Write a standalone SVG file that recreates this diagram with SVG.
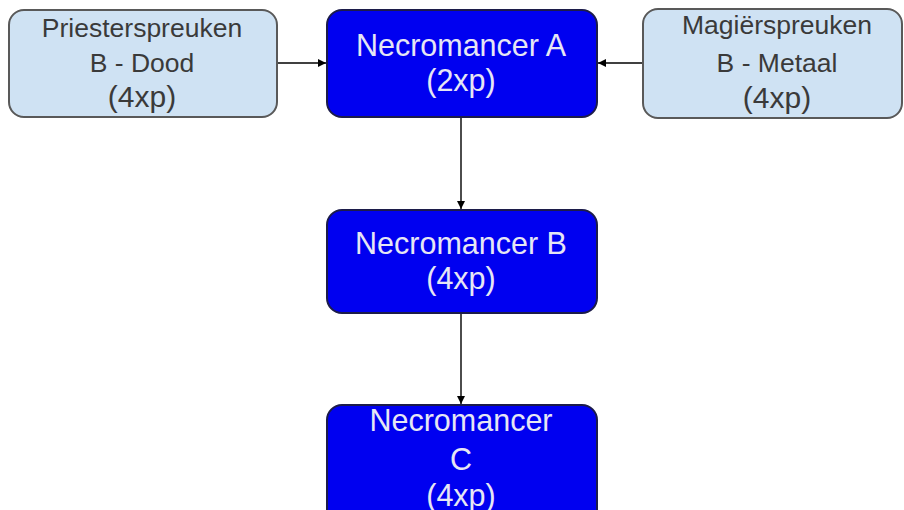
<svg xmlns="http://www.w3.org/2000/svg" width="904" height="510" viewBox="0 0 904 510">
<defs>
<marker id="ah" viewBox="0 0 10 10" refX="10" refY="5" markerWidth="8" markerHeight="8" markerUnits="userSpaceOnUse" orient="auto">
<path d="M0,0 L10,5 L0,10 z" fill="#000"/>
</marker>
<style>
.light{fill:#cfe2f3;stroke:#595959;stroke-width:2}
.dark{fill:#0000f0;stroke:#1c1c4a;stroke-width:2}
.lt{font-family:"Liberation Sans",Arial,sans-serif;fill:#3a3a3a;text-anchor:middle}
.dt{font-family:"Liberation Sans",Arial,sans-serif;fill:#e6e6f4;text-anchor:middle;font-size:30.5px}
.conn{stroke:#000;stroke-width:1.4;fill:none;marker-end:url(#ah)}
</style>
</defs>
<rect width="904" height="510" fill="#ffffff"/>
<g id="connectors">
<line class="conn" x1="278" y1="63" x2="326" y2="63"/>
<line class="conn" x1="643" y1="63" x2="598" y2="63"/>
<line class="conn" x1="461" y1="118" x2="461" y2="209"/>
<line class="conn" x1="461" y1="314" x2="461" y2="404"/>
</g>
<g id="priester">
<rect class="light" x="9" y="10" width="268" height="107" rx="15"/>
<text class="lt" x="142" y="37" font-size="26.5">Priesterspreuken</text>
<text class="lt" x="142" y="72" font-size="26.5">B - Dood</text>
<text class="lt" x="142" y="107" font-size="30">(4xp)</text>
</g>
<g id="necroA">
<rect class="dark" x="327" y="10" width="270" height="107" rx="15"/>
<text class="dt" x="461" y="56">Necromancer A</text>
<text class="dt" x="461" y="91">(2xp)</text>
</g>
<g id="magier">
<rect class="light" x="643" y="9" width="259" height="109" rx="15"/>
<text class="lt" x="777" y="34" font-size="26.5">Magiërspreuken</text>
<text class="lt" x="777" y="72" font-size="26.5">B - Metaal</text>
<text class="lt" x="777" y="108" font-size="30">(4xp)</text>
</g>
<g id="necroB">
<rect class="dark" x="327" y="210" width="270" height="103" rx="15"/>
<text class="dt" x="461" y="254">Necromancer B</text>
<text class="dt" x="461" y="289">(4xp)</text>
</g>
<g id="necroC">
<rect class="dark" x="327" y="405" width="270" height="125" rx="15"/>
<text class="dt" x="461" y="431">Necromancer</text>
<text class="dt" x="461" y="470">C</text>
<text class="dt" x="461" y="506">(4xp)</text>
</g>
</svg>
